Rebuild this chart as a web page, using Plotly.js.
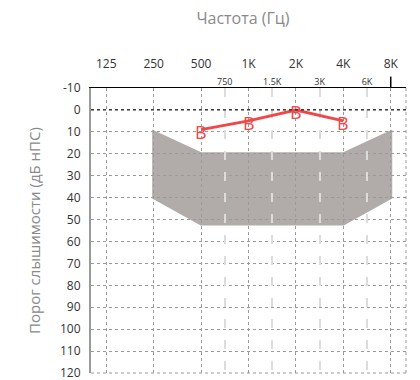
<!DOCTYPE html>
<html>
<head>
<meta charset="utf-8">
<script src="https://cdn.plot.ly/plotly-3.0.1.min.js"></script>
<style>
  html, body { margin: 0; padding: 0; background: #fff; }
  #chart { width: 420px; height: 380px; }
</style>
</head>
<body>
<div id="chart"></div>
<script>
// Octave frequencies (Hz) and their labels
const freqs = [125, 250, 500, 1000, 2000, 4000, 8000];
const freqLabels = ['125', '250', '500', '1K', '2K', '4K', '8K'];
// Inter-octave frequencies, drawn half-way between octaves
const midFreqs = [707, 1414, 2828, 5657];
const midLabels = ['750', '1.5K', '3K', '6K'];
// Hearing level ticks (dB HL)
const levelTicks = [-10, 0, 10, 20, 30, 40, 50, 60, 70, 80, 90, 100, 110, 120];
const levelLabels = levelTicks.map(String);

// Measured thresholds, both ears ("B")
const testFreqs = [500, 1000, 2000, 4000];
const thresholds = [9, 5, 0, 5];

// Speech area outline (frequency, level)
const speechFreqs = [250, 500, 4000, 8000, 8000, 4000, 500, 250];
const speechLevels = [10, 20, 20, 10, 40, 52, 52, 40];

const speechPath = speechFreqs
  .map((f, i) => (i === 0 ? 'M' : 'L') + f + ',' + speechLevels[i])
  .join(' ') + ' Z';

const red = '#f04848';
const grey = '#9a9a9a';
const font = 'Open Sans, DejaVu Sans, sans-serif';

const traces = [
  {
    x: testFreqs,
    y: thresholds,
    mode: 'lines',
    line: { color: red, width: 3 },
    hoverinfo: 'skip',
    showlegend: false,
    xaxis: 'x',
    yaxis: 'y'
  },
  {
    x: [],
    y: [],
    xaxis: 'x2',
    yaxis: 'y',
    showlegend: false
  }
];

// "B" symbols sit on each threshold point
const markerLabels = testFreqs.map((f, i) => ({
  x: Math.log10(f),
  y: thresholds[i],
  xref: 'x',
  yref: 'y',
  text: 'B',
  showarrow: false,
  yshift: -2,
  font: { family: font, size: 18, color: red }
}));

const layout = {
  width: 420,
  height: 380,
  margin: { l: 91, r: 14, t: 88, b: 7 },
  paper_bgcolor: '#fff',
  plot_bgcolor: '#fff',
  font: { family: font, color: '#333' },
  showlegend: false,
  title: {
    text: 'Частота (Гц)',
    font: { family: font, size: 16, color: '#8a8a8a' },
    x: 243 / 420,
    xref: 'container',
    xanchor: 'center',
    y: 1 - 18 / 380,
    yref: 'container',
    yanchor: 'middle'
  },
  xaxis: {
    type: 'log',
    side: 'top',
    range: [2, 4],
    tickvals: freqs,
    ticktext: freqLabels,
    tickfont: { family: font, size: 12, color: '#333' },
    ticks: '',
    ticklabelstandoff: 14,
    showgrid: true,
    gridcolor: grey,
    griddash: 'dot',
    gridwidth: 1,
    showline: true,
    linecolor: '#000',
    linewidth: 1,
    zeroline: false,
    fixedrange: true
  },
  xaxis2: {
    type: 'log',
    side: 'top',
    overlaying: 'x',
    anchor: 'y',
    range: [2, 4],
    tickvals: midFreqs,
    ticktext: midLabels,
    tickfont: { family: font, size: 9, color: '#333' },
    ticks: '',
    showgrid: true,
    gridcolor: '#dcdcdc',
    gridwidth: 2,
    griddash: '9px,12px',
    showline: false,
    zeroline: false,
    fixedrange: true
  },
  yaxis: {
    range: [120, -10],
    tickvals: levelTicks,
    ticktext: levelLabels,
    tickfont: { family: font, size: 12, color: '#333' },
    ticks: '',
    ticklabelstandoff: 6,
    ticklabeloverflow: 'allow',
    showgrid: true,
    gridcolor: grey,
    griddash: 'dot',
    gridwidth: 1,
    showline: true,
    linecolor: grey,
    linewidth: 2,
    zeroline: false,
    title: {
      text: 'Порог слышимости (дБ нПС)',
      font: { family: font, size: 15, color: '#8a8a8a' },
      standoff: 16
    },
    fixedrange: true
  },
  annotations: markerLabels,
  shapes: [
    {
      type: 'path',
      xref: 'x',
      yref: 'y',
      path: speechPath,
      fillcolor: '#b1aca9',
      line: { color: '#b1aca9', width: 3 },
      layer: 'below'
    },
    {
      type: 'line',
      xref: 'paper',
      yref: 'y',
      x0: 0, x1: 1,
      y0: levelTicks[1], y1: levelTicks[1],
      line: { color: '#222', width: 1.2, dash: 'dot' }
    },
    {
      type: 'line',
      xref: 'x',
      yref: 'paper',
      x0: freqs[6], x1: freqs[6],
      y0: 1, y1: 1.04,
      line: { color: '#000', width: 1.5 }
    },
    {
      type: 'line',
      xref: 'paper',
      yref: 'paper',
      x0: 1, x1: 1,
      y0: 0, y1: 1,
      line: { color: grey, width: 1, dash: 'dot' }
    },
    {
      type: 'line',
      xref: 'paper',
      yref: 'paper',
      x0: 0, x1: 1,
      y0: 0, y1: 0,
      line: { color: grey, width: 1, dash: 'dot' }
    }
  ]
};

Plotly.newPlot('chart', traces, layout, { staticPlot: true, displayModeBar: false });
</script>
</body>
</html>
